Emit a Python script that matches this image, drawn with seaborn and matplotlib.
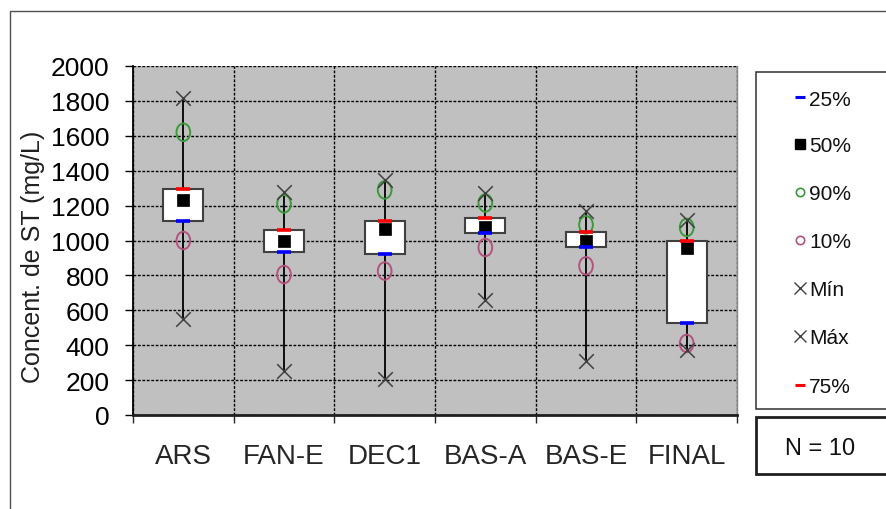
import numpy as np
import pandas as pd
import seaborn as sns
import matplotlib
matplotlib.use("Agg")
import matplotlib.pyplot as plt
from matplotlib.patches import Rectangle
from matplotlib.lines import Line2D
from matplotlib.path import Path
from matplotlib.transforms import Affine2D

# ---------------- data ----------------
categories = ["ARS", "FAN-E", "DEC1", "BAS-A", "BAS-E", "FINAL"]
p_min = [550, 255, 205, 660, 310, 375]
p10 = [1000, 805, 825, 960, 855, 410]
p25 = [1110, 935, 925, 1045, 960, 525]
p50 = [1230, 1000, 1065, 1080, 1000, 955]
p75 = [1295, 1060, 1110, 1130, 1050, 995]
p90 = [1620, 1210, 1290, 1215, 1090, 1075]
p_max = [1815, 1280, 1345, 1270, 1170, 1120]
y_ticks = list(range(0, 2001, 200))
legend_labels = ["25%", "50%", "90%", "10%", "Mín", "Máx", "75%"]
n_label = "N = 10"
y_label = "Concent. de ST (mg/L)"

# ---------------- style ----------------
sns.set_style("ticks")
plt.rcParams["font.family"] = ["Liberation Sans", "DejaVu Sans"]

GREEN = "#3a9a3a"
PINK = "#b5517f"
BLUE = "#0000ff"
RED = "#ff0000"
XCOL = "#404040"

W, H = 886, 510
fig = plt.figure(figsize=(W / 100, H / 100), dpi=100)
fig.patch.set_facecolor("white")

L, R, T, B = 133, 737, 67, 416
ax = fig.add_axes([L / W, 1 - B / H, (R - L) / W, (B - T) / H])
ax.set_facecolor("#c0c0c0")

df = pd.DataFrame({
    "cat": categories,
    "height": np.array(p75) - np.array(p25),
})

# whiskers (min -> max), behind boxes
ax.vlines(x=np.arange(len(categories)), ymin=p_min, ymax=p_max,
          colors="black", linewidth=1.3, zorder=2)

# boxes (25% -> 75%)
sns.barplot(data=df, x="cat", y="height", bottom=p25, width=0.4,
            color="white", saturation=1, edgecolor="#404040", linewidth=1.5,
            errorbar=None, ax=ax, zorder=3)

# ellipse-shaped open marker (circles look slightly tall in the reference)
ell = Path.unit_circle().transformed(Affine2D().scale(0.78, 1.0))

sns.scatterplot(x=categories, y=p90, marker=ell, s=160, facecolors="none",
                edgecolor=GREEN, linewidth=1.4, ax=ax, zorder=5)
sns.scatterplot(x=categories, y=p10, marker=ell, s=160, facecolors="none",
                edgecolor=PINK, linewidth=1.4, ax=ax, zorder=5)
sns.scatterplot(x=categories, y=p_min, marker="x", s=110, color=XCOL,
                linewidth=1.1, ax=ax, zorder=5)
sns.scatterplot(x=categories, y=p_max, marker="x", s=110, color=XCOL,
                linewidth=1.1, ax=ax, zorder=5)
sns.scatterplot(x=categories, y=p50, marker="s", s=85, color="black",
                edgecolor="black", linewidth=0.5, ax=ax, zorder=6)
sns.scatterplot(x=categories, y=p25, marker="_", s=110, color=BLUE,
                linewidth=2.6, ax=ax, zorder=6)
sns.scatterplot(x=categories, y=p75, marker="_", s=110, color=RED,
                linewidth=2.6, ax=ax, zorder=6)

# axes scales
ax.set_xlim(-0.5, len(categories) - 0.5)
ax.set_ylim(0, 2000)
ax.set_yticks(y_ticks)
ax.set_yticklabels([str(v) for v in y_ticks])
ax.set_xticks(range(len(categories)))
ax.set_xticklabels(categories)
ax.set_xticks(np.arange(-0.5, len(categories), 1), minor=True)
ax.set_xlabel("")
ax.set_ylabel(y_label, fontsize=18, color="#202020")
ax.yaxis.set_label_coords(-0.146, 0.456)

ax.tick_params(axis="y", direction="out", length=6, width=1, pad=11,
               labelsize=19, colors="black")
ax.tick_params(axis="x", which="major", length=0, pad=20, labelsize=20)
ax.tick_params(axis="x", which="minor", direction="out", length=6, width=1)

# grid
ax.set_axisbelow(True)
ax.grid(False)
ax.yaxis.grid(True, which="major", linestyle=(0, (2, 1.2)), color="black",
              linewidth=1)
ax.xaxis.grid(True, which="minor", linestyle=(0, (2, 1.2)), color="black",
              linewidth=1)

ax.spines["top"].set_visible(False)
ax.spines["right"].set_color("#888888")
ax.spines["right"].set_linewidth(1)
ax.spines["left"].set_color("black")
ax.spines["left"].set_linewidth(1.3)
ax.spines["bottom"].set_color("#202020")
ax.spines["bottom"].set_linewidth(2)

# outer frame of the picture (open to the right / bottom)
fig.add_artist(Rectangle((10 / W, -0.2), 2, 1 - 12 / H + 0.2,
                         transform=fig.transFigure, fill=False,
                         edgecolor="#505050", linewidth=1))

# legend box
lx0, ly0, ly1 = 756, 73, 410
fig.add_artist(Rectangle((lx0 / W, 1 - ly1 / H), 1, (ly1 - ly0) / H,
                         transform=fig.transFigure, fill=True,
                         facecolor="white", edgecolor="#303030", linewidth=1.1))
leg_y = [98, 145, 193, 241, 289, 337, 386]
leg_style = [
    dict(marker="_", color=BLUE, markersize=7, markeredgewidth=2.2),
    dict(marker="s", color="black", markersize=6.5),
    dict(marker="o", markerfacecolor="none", markeredgecolor=GREEN,
         markersize=6, markeredgewidth=1.2),
    dict(marker="o", markerfacecolor="none", markeredgecolor=PINK,
         markersize=6, markeredgewidth=1.2),
    dict(marker="x", color=XCOL, markersize=8, markeredgewidth=1),
    dict(marker="x", color=XCOL, markersize=8, markeredgewidth=1),
    dict(marker="_", color=RED, markersize=7, markeredgewidth=2.2),
]
for lab, yy, st in zip(legend_labels, leg_y, leg_style):
    fig.add_artist(Line2D([800 / W], [1 - yy / H], transform=fig.transFigure,
                          linestyle="none", **st))
    fig.text(809 / W, 1 - yy / H, lab, fontsize=15, ha="left",
             va="center_baseline", color="#111111")

# N box
fig.add_artist(Rectangle((lx0 / W, 1 - 475 / H), 1, (475 - 418) / H,
                         transform=fig.transFigure, fill=True,
                         facecolor="white", edgecolor="#202020", linewidth=2))
fig.text(820 / W, 1 - 447 / H, n_label, fontsize=17, ha="center",
         va="center_baseline", color="#111111")

fig.savefig("out.png", dpi=100)
